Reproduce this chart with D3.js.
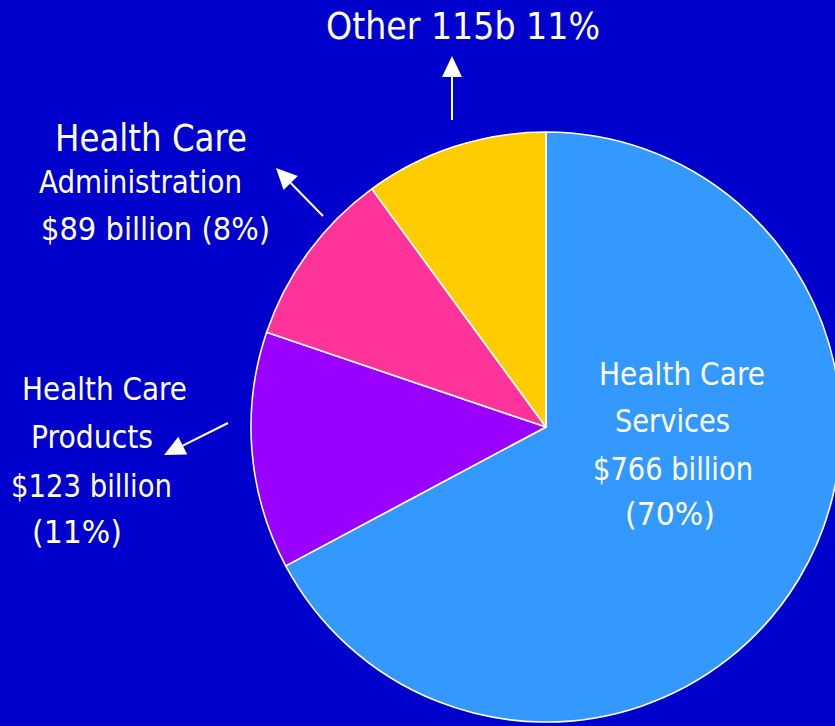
<!DOCTYPE html>
<html>
<head>
<meta charset="utf-8">
<script src="https://cdn.jsdelivr.net/npm/d3@7.9.0/dist/d3.min.js"></script>
<style>
  html, body { margin: 0; padding: 0; background: #0000cc; overflow: hidden; }
  svg { display: block; }
  text { font-family: "DejaVu Sans", Verdana, sans-serif; font-stretch: condensed; fill: #fff; }
</style>
</head>
<body>
<div id="chart"></div>
<script>
// slices, in drawing order (clockwise from 12 o'clock)
const categories = ["Health Care Services", "Health Care Products", "Health Care Administration", "Other"];
const spendingBillions = [766, 123, 89, 115];           // as printed on the labels
const drawnShare = [67.2, 13.0, 9.75, 10.05];            // slice size as drawn (% of circle)
const sliceColors = ["#3399ff", "#9900ff", "#ff3399", "#ffcc00"];

// label text, one array of lines per slice
const labelLines = [
  ["Health Care", "Services", "$766 billion", "(70%)"],
  ["Health Care", "Products", "$123 billion", "(11%)"],
  ["Health Care", "Administration", "$89 billion (8%)"],
  ["Other 115b 11%"]
];

const width = 835;
const height = 726;
const cx = 546, cy = 427, radius = 295;

const svg = d3.select('#chart')
  .append('svg')
  .attr('width', width)
  .attr('height', height);

svg.append('rect').attr('width', width).attr('height', height).attr('fill', '#0000cc');

const data = categories.map((c, i) => ({
  name: c,
  value: spendingBillions[i],
  share: drawnShare[i],
  color: sliceColors[i]
}));

const pie = d3.pie().sort(null).value((d) => d.share);
const arc = d3.arc().innerRadius(0).outerRadius(radius);

svg.append('g')
  .attr('transform', `translate(${cx},${cy})`)
  .selectAll('path')
  .data(pie(data))
  .join('path')
  .attr('d', arc)
  .attr('fill', (d) => d.data.color)
  .attr('stroke', '#fff')
  .attr('stroke-width', 1.6)
  .attr('stroke-linejoin', 'round');

// where each label line sits: [x, baseline, font size, width]
const labelPlace = [
  [[599, 385, 32, 166], [615, 432, 32, 115], [593, 480, 32, 160], [625, 525, 32, 90]],
  [[22, 400, 32, 165], [31, 448, 32, 122], [11, 497, 32, 161], [32, 543, 32, 90]],
  [[55, 151, 37, 192], [39, 193, 32, 203], [41, 240, 32, 229]],
  [[326, 39, 37, 274]]
];

const labels = svg.append('g').attr('class', 'labels');
labelLines.forEach((lines, i) => {
  lines.forEach((line, j) => {
    const [x, y, size, len] = labelPlace[i][j];
    labels.append('text')
      .attr('x', x)
      .attr('y', y)
      .attr('font-size', size)
      .attr('textLength', len)
      .attr('lengthAdjust', 'spacingAndGlyphs')
      .text(line);
  });
});

// callout arrows: tail -> tip
const arrows = [
  { from: [228, 423], to: [164, 455] },
  { from: [323, 216], to: [276, 168] },
  { from: [452, 120], to: [452, 56] }
];

const arrowG = svg.append('g').attr('class', 'arrows');
arrows.forEach((a) => {
  const [x1, y1] = a.from;
  const [x2, y2] = a.to;
  const len = Math.hypot(x2 - x1, y2 - y1);
  const ux = (x2 - x1) / len, uy = (y2 - y1) / len;
  const headLen = 21, headHalf = 10;
  const bx = x2 - ux * headLen, by = y2 - uy * headLen;
  arrowG.append('line')
    .attr('x1', x1).attr('y1', y1)
    .attr('x2', bx).attr('y2', by)
    .attr('stroke', '#fff')
    .attr('stroke-width', 2);
  arrowG.append('path')
    .attr('d', d3.line()([
      [x2, y2],
      [bx - uy * headHalf, by + ux * headHalf],
      [bx + uy * headHalf, by - ux * headHalf]
    ]) + 'Z')
    .attr('fill', '#fff');
});
</script>
</body>
</html>
